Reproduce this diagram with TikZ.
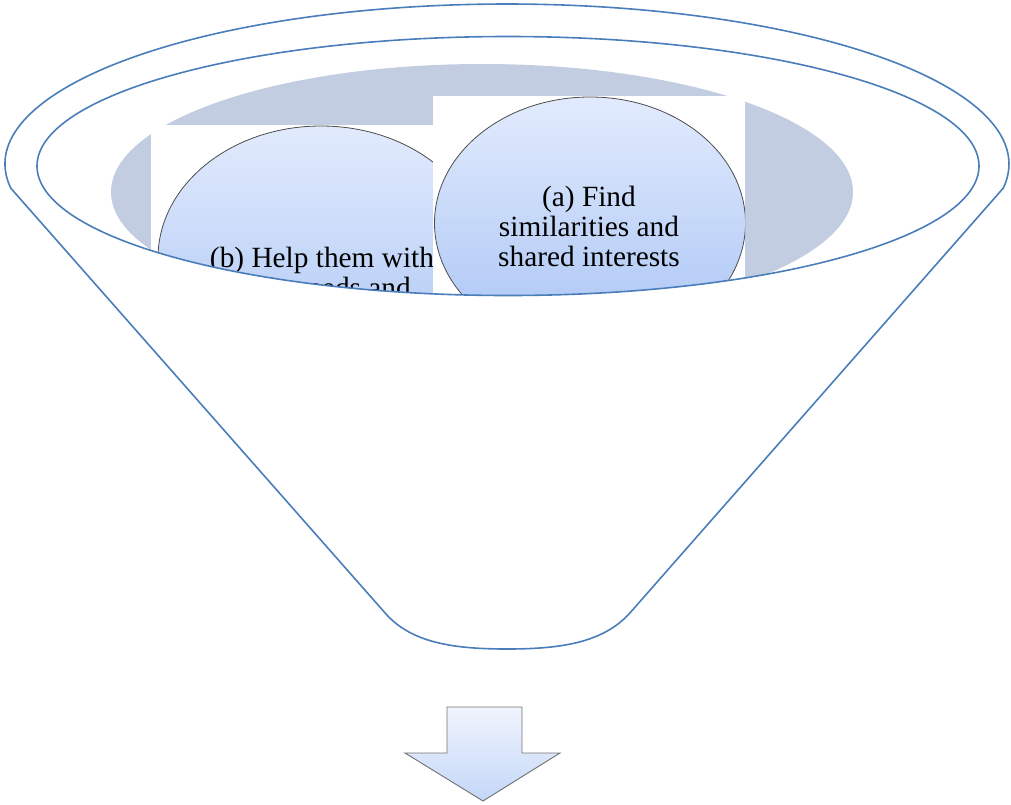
\documentclass[tikz,border=0pt]{standalone}
\usepackage{fontspec}
\setmainfont{Liberation Serif}
\definecolor{funnelblue}{HTML}{4A7EBB}
\definecolor{bowlgray}{HTML}{C3CDE1}
\definecolor{balltop}{HTML}{E2EBFD}
\definecolor{ballbottom}{HTML}{A9C4F5}
\definecolor{arrowtop}{HTML}{F0F4FD}
\definecolor{arrowbottom}{HTML}{C4D7F8}
\begin{document}
\begin{tikzpicture}[x=0.75pt,y=-0.75pt,
  funnel/.style={draw=funnelblue, line width=1.2pt},
  ball/.style={top color=balltop, bottom color=ballbottom},
  balledge/.style={draw=black!70, line width=0.6pt},
  balltext/.style={align=center, inner sep=0pt, font=\fontsize{22}{22.5}\selectfont},
  arrowbox/.style={draw=black!55, line width=0.7pt, top color=arrowtop, bottom color=arrowbottom}]
\useasboundingbox (0,0) rectangle (1011,804);

% centres of the rim ellipses and the two balls
\coordinate (rim) at (507,164);
\coordinate (inner) at (508,166);
\coordinate (ballB) at (321,258);
\coordinate (ballA) at (590,223);

% contents of the bowl, seen through the inner rim
\begin{scope}
  \clip (inner) ellipse [x radius=471*0.75pt, y radius=129.5*0.75pt];
  \fill[bowlgray] (482,192) ellipse [x radius=371*0.75pt, y radius=128*0.75pt];
  % ball (b)
  \fill[white] (151,125) rectangle (433,420);
  \begin{scope}
    \clip (151,125) rectangle (433,420);
    \shade[ball] (ballB) ellipse [x radius=163*0.75pt, y radius=132*0.75pt];
    \draw[balledge] (ballB) ellipse [x radius=163*0.75pt, y radius=132*0.75pt];
  \end{scope}
  % the base anchor of a two-line node sits on its last line
  \node[balltext, anchor=base] (txtb) at (322,297) {(b) Help them with\\their needs and};
  % ball (a)
  \fill[white] (433,96) rectangle (745,420);
  \begin{scope}
    \clip (433,96) rectangle (745,420);
    \shade[ball] (ballA) ellipse [x radius=155.5*0.75pt, y radius=126*0.75pt];
    \draw[balledge] (ballA) ellipse [x radius=155.5*0.75pt, y radius=126*0.75pt];
  \end{scope}
  \node[balltext] (txta) at (589,226) {(a) Find\\similarities and\\shared interests};
\end{scope}

% inner rim
\draw[funnel] (inner) ellipse [x radius=471*0.75pt, y radius=129.5*0.75pt];

% funnel body: outer rim over the top, straight sides and the rounded spout
\coordinate (spoutR) at (629,614);
\coordinate (spoutL) at (386,614);
\coordinate (spoutB) at (507,649);
\draw[funnel, line join=round]
  ([shift={(188.7:376.5pt and 120pt)}]rim)
  arc[start angle=188.7, end angle=-8.7, x radius=376.5pt, y radius=120pt]
  -- (spoutR)
  .. controls (602,643) and (560,649) .. (spoutB)
  .. controls (454,649) and (412,643) .. (spoutL)
  -- cycle;

% arrow below the spout
\draw[arrowbox, line join=miter]
  (447,707) -- (522,707) -- (522,753) -- (560,753) -- (483,801)
  -- (405,753) -- (447,753) -- cycle;
\end{tikzpicture}
\end{document}
